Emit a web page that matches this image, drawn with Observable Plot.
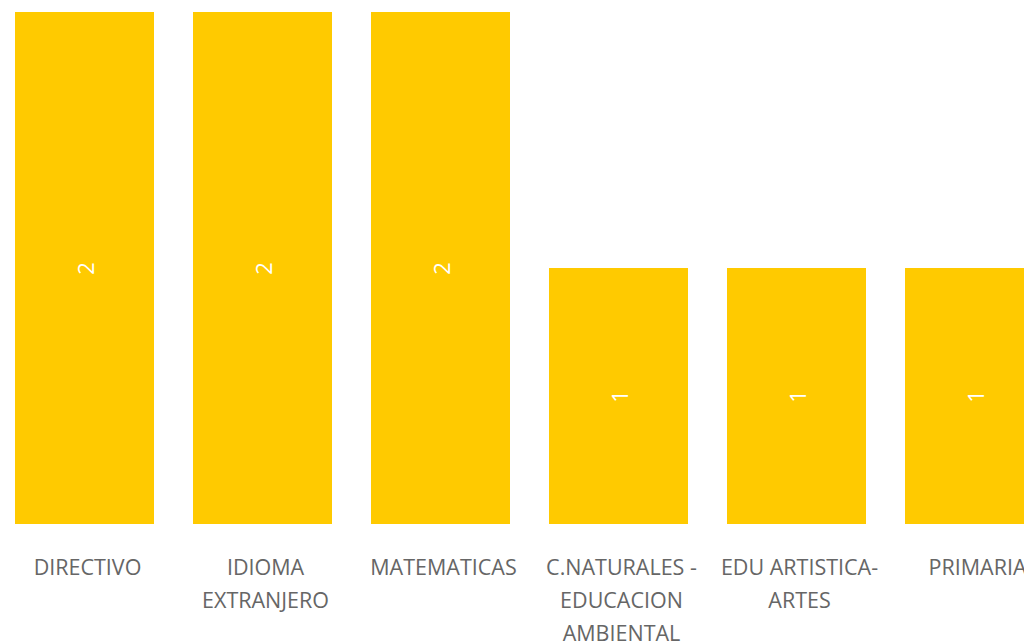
<!DOCTYPE html>
<html>
<head>
<meta charset="utf-8">
<script src="https://cdn.jsdelivr.net/npm/d3@7"></script>
<script src="https://cdn.jsdelivr.net/npm/@observablehq/plot@0.6"></script>
<style>
  html, body { margin: 0; padding: 0; background: #fff; overflow: hidden; }
  #chart svg { display: block; }
</style>
</head>
<body>
<div id="chart"></div>
<script>
const categories = ["DIRECTIVO", "IDIOMA EXTRANJERO", "MATEMATICAS", "C.NATURALES - EDUCACION AMBIENTAL", "EDU ARTISTICA-ARTES", "PRIMARIA"];
const tickLabels = ["DIRECTIVO", "IDIOMA\nEXTRANJERO", "MATEMATICAS", "C.NATURALES -\nEDUCACION\nAMBIENTAL", "EDU ARTISTICA-\nARTES", "PRIMARIA"];
const values = [2, 2, 2, 1, 1, 1];

const data = categories.map((c, i) => ({category: c, value: values[i], label: tickLabels[i]}));

const chart = Plot.plot({
  width: 1024,
  height: 641,
  margin: 0,
  style: {fontFamily: "'Open Sans', sans-serif", background: "#fff", overflow: "visible"},
  x: {domain: categories, range: [-24, 1083], padding: 0.2191, axis: null},
  y: {domain: [0, 2], range: [524, 12], axis: null},
  marks: [
    Plot.barY(data, {x: "category", y: "value", fill: "#FFCA00"}),
    Plot.text(data, {
      x: "category", y: d => d.value / 2, text: d => String(d.value),
      rotate: -90, fill: "#fff", fontSize: 22, fontWeight: 400, dx: 2
    }),
    Plot.text(data, {
      x: "category", y: 0, text: "label", dy: 26.5, dx: 2.5, lineAnchor: "top",
      fill: "#666", fontSize: 21.5, lineHeight: 1.54
    })
  ]
});
document.getElementById("chart").appendChild(chart);
</script>
</body>
</html>
